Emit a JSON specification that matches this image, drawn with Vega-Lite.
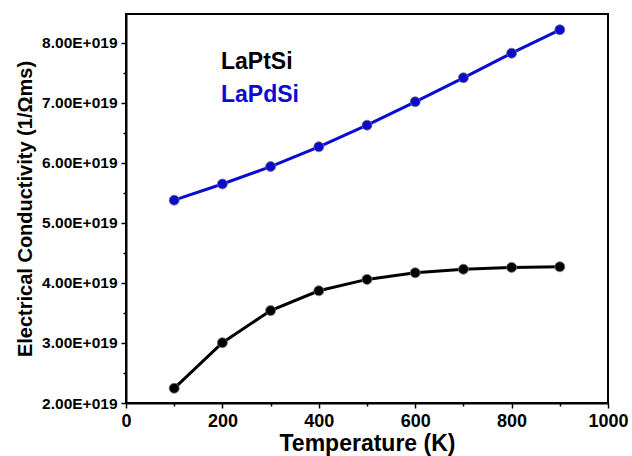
{
  "$schema": "https://vega.github.io/schema/vega-lite/v6.json",
  "width": 482,
  "height": 389,
  "autosize": {"type": "none"},
  "padding": {"left": 126, "top": 14, "right": 24, "bottom": 53},
  "background": "white",
  "config": {
    "font": "Liberation Sans",
    "view": {"stroke": "black", "strokeWidth": 2},
    "axis": {"grid": false, "domainColor": "black", "domainWidth": 2, "tickColor": "black", "tickWidth": 1.5, "labelColor": "black", "titleColor": "black", "labelFont": "Liberation Sans", "titleFont": "Liberation Sans", "labelFontWeight": "bold", "titleFontWeight": "bold"}
  },
  "data": {
    "values": [
      {"T": 100, "sigma": 2.245e19, "material": "LaPtSi"},
      {"T": 200, "sigma": 3.005e19, "material": "LaPtSi"},
      {"T": 300, "sigma": 3.54e19, "material": "LaPtSi"},
      {"T": 400, "sigma": 3.87e19, "material": "LaPtSi"},
      {"T": 500, "sigma": 4.06e19, "material": "LaPtSi"},
      {"T": 600, "sigma": 4.17e19, "material": "LaPtSi"},
      {"T": 700, "sigma": 4.23e19, "material": "LaPtSi"},
      {"T": 800, "sigma": 4.26e19, "material": "LaPtSi"},
      {"T": 900, "sigma": 4.27e19, "material": "LaPtSi"},
      {"T": 100, "sigma": 5.38e19, "material": "LaPdSi"},
      {"T": 200, "sigma": 5.65e19, "material": "LaPdSi"},
      {"T": 300, "sigma": 5.94e19, "material": "LaPdSi"},
      {"T": 400, "sigma": 6.27e19, "material": "LaPdSi"},
      {"T": 500, "sigma": 6.63e19, "material": "LaPdSi"},
      {"T": 600, "sigma": 7.02e19, "material": "LaPdSi"},
      {"T": 700, "sigma": 7.42e19, "material": "LaPdSi"},
      {"T": 800, "sigma": 7.83e19, "material": "LaPdSi"},
      {"T": 900, "sigma": 8.22e19, "material": "LaPdSi"}
    ]
  },
  "encoding": {
    "x": {
      "field": "T", "type": "quantitative",
      "scale": {"domain": [0, 1000], "nice": false, "zero": false},
      "axis": {
        "title": "Temperature (K)",
        "values": [0, 100, 200, 300, 400, 500, 600, 700, 800, 900, 1000],
        "format": "d",
        "labelExpr": "datum.value % 200 === 0 ? datum.label : ''",
        "labelFlush": false, "labelOverlap": false, "labelBound": false,
        "labelFontSize": 18, "labelPadding": 4,
        "tickSize": {"condition": {"test": "datum.value % 200 === 0", "value": 5}, "value": 3},
        "titleFontSize": 23, "titlePadding": 2
      }
    },
    "y": {
      "field": "sigma", "type": "quantitative",
      "scale": {"domain": [2e19, 8.483e19], "nice": false, "zero": false},
      "axis": {
        "title": "Electrical Conductivity (1/Ωms)",
        "values": [2e19, 2.5e19, 3e19, 3.5e19, 4e19, 4.5e19, 5e19, 5.5e19, 6e19, 6.5e19, 7e19, 7.5e19, 8e19],
        "labelExpr": "round(datum.value / 1e18) % 10 === 0 ? format(datum.value / 1e19, '.2f') + 'E+019' : ''",
        "labelOverlap": false, "labelBound": false,
        "labelFontSize": 15.5, "labelPadding": 4,
        "tickSize": {"condition": {"test": "round(datum.value / 1e18) % 10 === 0", "value": 5}, "value": 3},
        "titleFontSize": 20, "titlePadding": 6
      }
    },
    "color": {
      "field": "material", "type": "nominal",
      "scale": {"domain": ["LaPtSi", "LaPdSi"], "range": ["#000000", "#0a0ad2"]},
      "legend": {
        "title": null, "orient": "none", "legendX": 72, "legendY": 36,
        "symbolSize": 0, "symbolOpacity": 0, "symbolStrokeWidth": 0, "labelOffset": 0,
        "labelFontSize": 23, "labelFontWeight": "bold", "labelFont": "Liberation Sans",
        "rowPadding": 9,
        "encode": {"labels": {"update": {"fill": {"scale": "color", "field": "value"}}}}
      }
    }
  },
  "layer": [
    {"mark": {"type": "line", "strokeWidth": 3}},
    {"mark": {"type": "point", "filled": true, "size": 100, "opacity": 1, "stroke": "#777777", "strokeWidth": 0.8}}
  ]
}
